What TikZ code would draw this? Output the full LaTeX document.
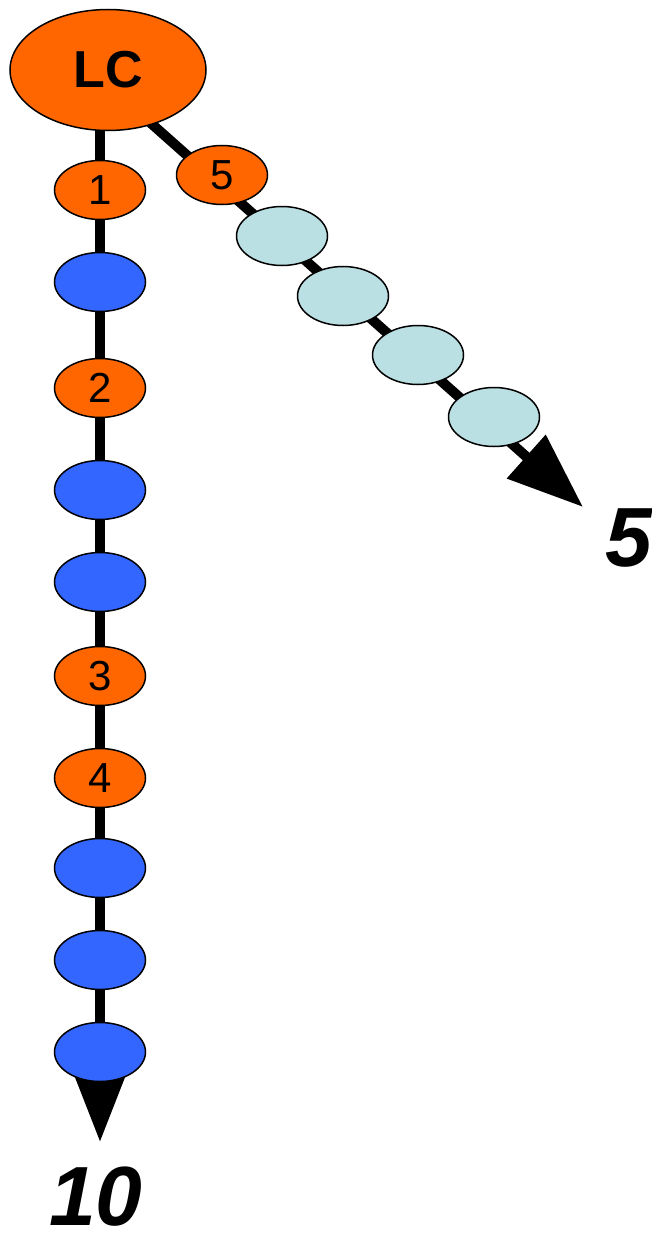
\documentclass[tikz,border=0pt]{standalone}
\usepackage{fontspec}
\setmainfont{Liberation Sans}
\usetikzlibrary{arrows.meta,shapes.geometric}
\pgfdeclarelayer{background}
\pgfsetlayers{background,main}
\definecolor{orangeF}{HTML}{FF6600}
\definecolor{blueF}{HTML}{3366FF}
\definecolor{lblueF}{HTML}{BBE0E3}
\tikzset{
  bead/.style={ellipse, draw=black, line width=1.5pt, minimum width=91pt, minimum height=59pt, inner sep=0pt,
    font=\fontsize{42}{42}\selectfont},
  obead/.style={bead, fill=orangeF},
  bbead/.style={bead, fill=blueF},
  lbead/.style={bead, fill=lblueF},
  chain/.style={line width=10pt, draw=black, -{Triangle[length=76pt,width=56pt]}},
  biglabel/.style={font=\fontsize{84}{84}\selectfont\bfseries\itshape, inner sep=0pt}
}
\begin{document}
\begin{tikzpicture}[x=1pt,y=-1pt]
\useasboundingbox (0,0) rectangle (652,1236);
\node[ellipse, draw=black, line width=1.5pt, fill=orangeF, minimum width=196pt, minimum height=121pt, inner sep=0pt,
  font=\fontsize{52}{52}\selectfont\bfseries] (lc) at (108,70) {LC};
% vertical chain
\node[obead] (v1) at (100,190) {1};
\node[bbead] (v2) at (100,282) {};
\node[obead] (v3) at (100,388) {2};
\node[bbead] (v4) at (100,490) {};
\node[bbead] (v5) at (100,582) {};
\node[obead] (v6) at (100,676) {3};
\node[obead] (v7) at (100,778) {4};
\node[bbead] (v8) at (100,868) {};
\node[bbead] (v9) at (100,960) {};
\node[bbead] (v10) at (100,1052) {};
\coordinate (tipv) at (100,1142);
% diagonal chain
\node[obead] (d1) at (222,175) {5};
\node[lbead] (d2) at (282,236) {};
\node[lbead] (d3) at (343,296) {};
\node[lbead] (d4) at (418,355) {};
\node[lbead] (d5) at (494,417) {};
\coordinate (tipd) at (583,507);
\coordinate (dstart) at (100,78);
\begin{pgfonlayer}{background}
  \draw[chain] (tipv |- lc.center) -- (tipv);
  \draw[chain] (dstart) -- (tipd);
\end{pgfonlayer}
\node[biglabel] (l10) at (96,1197) {10};
\node[biglabel] (l5) at (629,538) {5};
\end{tikzpicture}
\end{document}
